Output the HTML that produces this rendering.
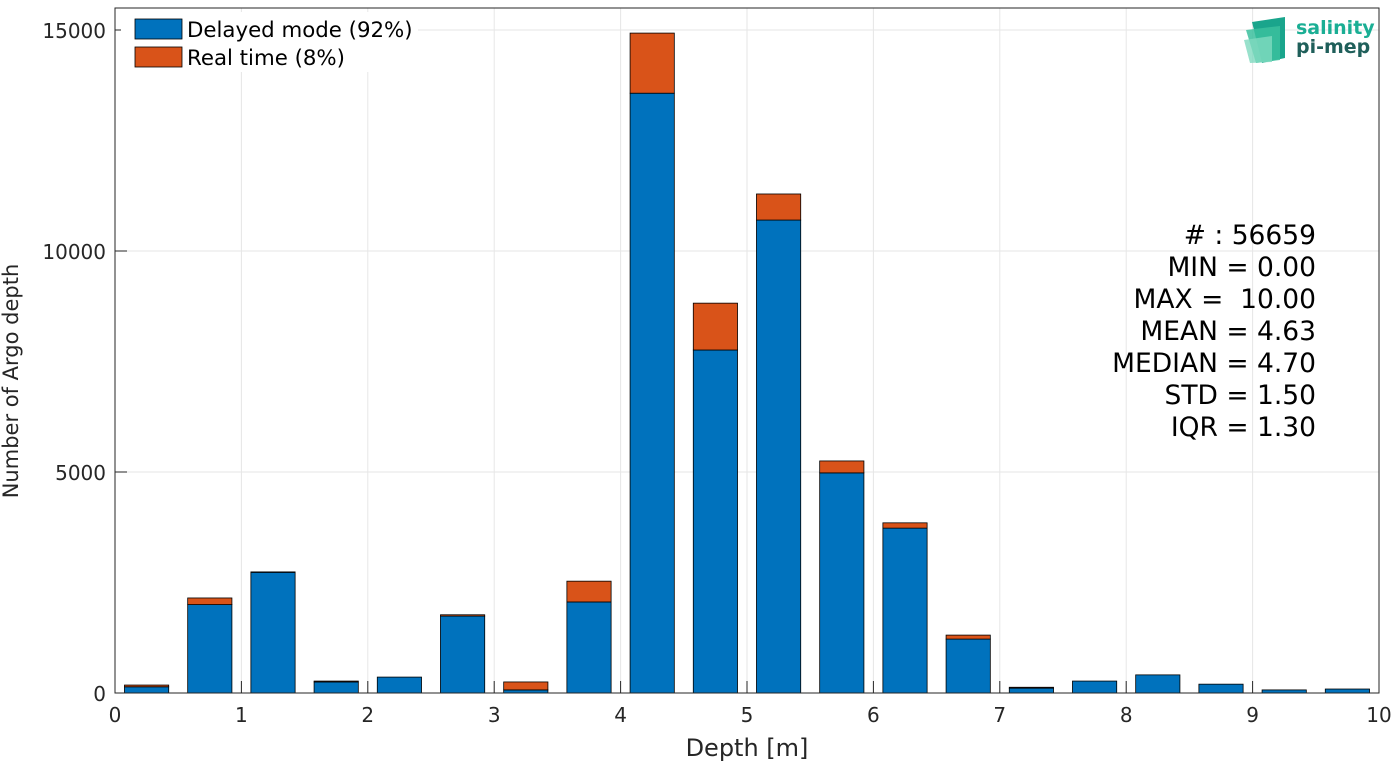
<!DOCTYPE html>
<html><head><meta charset="utf-8"><style>
body{margin:0;background:#fff;font-family:"DejaVu Sans","Liberation Sans",sans-serif}
</style></head><body>
<svg id="chart" width="1393" height="763" xmlns="http://www.w3.org/2000/svg" font-family="DejaVu Sans, Liberation Sans, sans-serif">
<rect x="0" y="0" width="1393" height="763" fill="#fff"/>
<g id="grid"></g>
<g id="bars"></g>
<rect x="115" y="8" width="1264" height="685" fill="none" stroke="#262626" stroke-width="1"/>
<g id="ticks"></g>
<text x="747" y="756" font-size="24" fill="#262626" text-anchor="middle">Depth [m]</text>
<text transform="translate(18,381) rotate(-90)" font-size="21" fill="#262626" text-anchor="middle">Number of Argo depth</text>
<g font-size="21.3" fill="#000">
<rect x="121" y="12" width="297" height="60" fill="#fff"/>
<g><rect x="135" y="19" width="47" height="20" fill="#0072bd" stroke="#000" stroke-width="0.8"/><text x="187" y="37">Delayed mode (92%)</text></g>
<g><rect x="135" y="47" width="47" height="20" fill="#d95319" stroke="#000" stroke-width="0.8"/><text x="187" y="65">Real time (8%)</text></g>
</g>
<g font-size="26.5" fill="#000" text-anchor="end">
<text x="1316" y="244">#  : 56659</text>
<text x="1316" y="276">MIN = 0.00</text>
<text x="1316" y="308">MAX =&#160; 10.00</text>
<text x="1316" y="340">MEAN = 4.63</text>
<text x="1316" y="372">MEDIAN = 4.70</text>
<text x="1316" y="404">STD = 1.50</text>
<text x="1316" y="436">IQR = 1.30</text>
</g>
<g>
<path d="M1252 22 L1285 17 L1285 58 L1262 63 Z" fill="#1aa58c"/>
<path d="M1246 30 L1280 26 L1280 60 L1256 63 Z" fill="#3bbf9e" opacity="0.85"/>
<path d="M1244 40 L1272 36 L1272 62 L1250 63 Z" fill="#7fd9bf" opacity="0.8"/>
<text x="1296" y="34" font-size="19" font-weight="bold" fill="#1aae94">salinity</text>
<text x="1296" y="53" font-size="19" font-weight="bold" fill="#1f5f5a">pi-mep</text>
</g>
</svg>
<script>
const categories=[0.25,0.75,1.25,1.75,2.25,2.75,3.25,3.75,4.25,4.75,5.25,5.75,6.25,6.75,7.25,7.75,8.25,8.75,9.25,9.75];
const delayed=[140,2000,2730,250,360,1740,70,2060,13570,7760,10700,4980,3730,1220,110,270,410,200,70,90];
const realtime=[40,150,10,20,0,30,180,470,1360,1060,590,270,120,90,20,0,0,0,0,0];
const xTicks=[0,1,2,3,4,5,6,7,8,9,10];
const yTicks=[0,5000,10000,15000];
const NS="http://www.w3.org/2000/svg";
const X0=115,X1=1379,Y0=693,Y1=30;
const xs=v=>X0+(v/10)*(X1-X0);
const ys=v=>Y0-(v/15000)*(Y0-Y1);
function mk(t,a,p){const e=document.createElementNS(NS,t);for(const k in a)e.setAttribute(k,a[k]);p.appendChild(e);return e;}
const grid=document.getElementById('grid'),bars=document.getElementById('bars'),ticks=document.getElementById('ticks');
xTicks.forEach(v=>{
 const l=mk('line',{x1:xs(v),x2:xs(v),y1:8,y2:693,stroke:'#e6e6e6'},grid);
 
 
 mk('line',{x1:xs(v),x2:xs(v),y1:693,y2:681,stroke:'#262626'},ticks);
 const t=mk('text',{x:xs(v),y:722,'font-size':20,fill:'#262626','text-anchor':'middle'},ticks);
 t.textContent=v;
 
 
});
yTicks.forEach(v=>{
 const l=mk('line',{x1:115,x2:1379,y1:ys(v),y2:ys(v),stroke:'#e6e6e6'},grid);
 
 
 mk('line',{x1:115,x2:127,y1:ys(v),y2:ys(v),stroke:'#262626'},ticks);
 const t=mk('text',{x:106,y:ys(v)+8,'font-size':20,fill:'#262626','text-anchor':'end'},ticks);
 t.textContent=v;
 
 
});
const bw=0.35;
categories.forEach((c,i)=>{
 const x=xs(c-bw/2),w=xs(c+bw/2)-x;
 const b=mk('rect',{x:x,y:ys(delayed[i]),width:w,height:ys(0)-ys(delayed[i]),fill:'#0072bd',stroke:'#000','stroke-width':0.8},bars);
 
 
 if(realtime[i]>0){
  const top=delayed[i]+realtime[i];
  const r=mk('rect',{x:x,y:ys(top),width:w,height:ys(delayed[i])-ys(top),fill:'#d95319',stroke:'#000','stroke-width':0.8},bars);
  
  
 }
});
</script>
</body></html>
